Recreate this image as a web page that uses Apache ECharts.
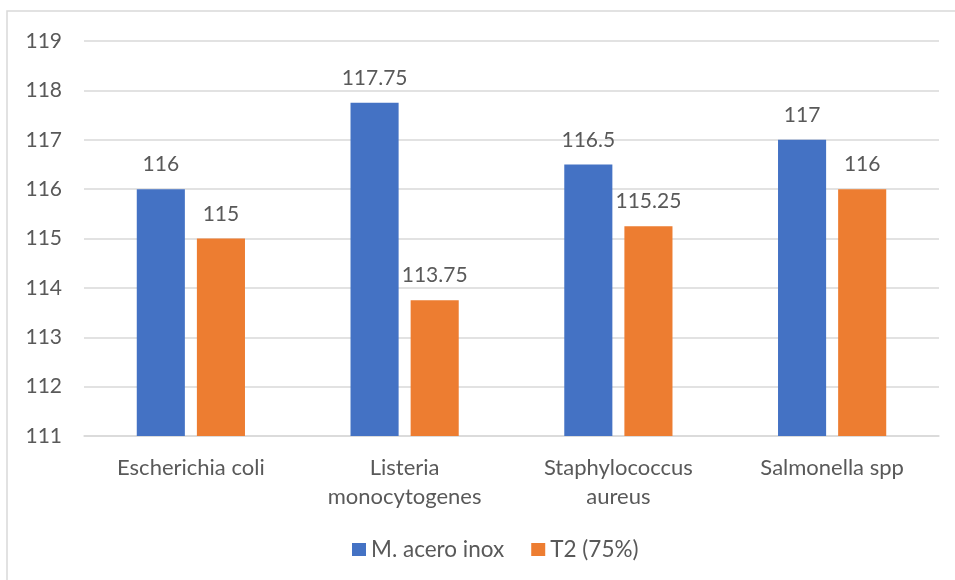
<!DOCTYPE html>
<html>
<head>
<meta charset="utf-8">
<script src="https://cdn.jsdelivr.net/npm/echarts@6/dist/echarts.min.js"></script>
<style>
  html, body { margin: 0; padding: 0; background: #ffffff; }
  #chart { width: 955px; height: 580px; }
</style>
</head>
<body>
<div id="chart"></div>
<script>
// Bacteria tested on each surface
const categories = ['Escherichia coli', 'Listeria\nmonocytogenes', 'Staphylococcus\naureus', 'Salmonella spp'];
// Series values
const aceroInox = [116, 117.75, 116.5, 117];
const t2 = [115, 113.75, 115.25, 116];
const seriesNames = ['M. acero inox', 'T2 (75%)'];
// Value axis range
const yMin = 111;
const yMax = 119;
const yStep = 1;

const FONT = 'Lato';
const TEXT = '#595959';

const chart = echarts.init(document.getElementById('chart'), null, { renderer: 'canvas' });

const labelStyle = {
  show: true,
  position: 'top',
  distance: 14,
  fontFamily: FONT,
  fontSize: 21,
  color: TEXT
};

chart.setOption({
  animation: false,
  backgroundColor: '#ffffff',
  textStyle: { fontFamily: FONT },
  graphic: [{
    type: 'rect',
    shape: { x: 7, y: 11, width: 1100, height: 1100 },
    style: { fill: 'none', stroke: '#d9d9d9', lineWidth: 1.5 },
    silent: true,
    z: -10
  }],
  grid: { left: 84, right: 16, top: 41, bottom: 144, containLabel: false },
  legend: {
    data: seriesNames,
    left: 352,
    top: 538,
    icon: 'rect',
    itemWidth: 14,
    itemHeight: 13,
    itemGap: 27,
    textStyle: { fontFamily: FONT, fontSize: 22.5, color: TEXT, padding: [0, 0, 0, 0] },
    padding: 0
  },
  xAxis: {
    type: 'category',
    data: categories,
    axisLine: { show: true, lineStyle: { color: '#d9d9d9', width: 1.5 } },
    axisTick: { show: false },
    axisLabel: {
      fontFamily: FONT,
      fontSize: 22,
      color: TEXT,
      lineHeight: 29,
      margin: 17,
      interval: 0,
      align: 'center'
    }
  },
  yAxis: {
    type: 'value',
    min: yMin,
    max: yMax,
    interval: yStep,
    axisLine: { show: false },
    axisTick: { show: false },
    splitLine: { lineStyle: { color: '#d9d9d9', width: 1.5 } },
    axisLabel: { fontFamily: FONT, fontSize: 21, color: TEXT, margin: 22 }
  },
  series: [
    {
      name: seriesNames[0],
      type: 'bar',
      data: aceroInox,
      barWidth: '22.5%',
      barGap: '25%',
      itemStyle: { color: '#4472C4' },
      label: labelStyle
    },
    {
      name: seriesNames[1],
      type: 'bar',
      data: t2,
      barWidth: '22.5%',
      itemStyle: { color: '#ED7D31' },
      label: labelStyle
    }
  ]
});
</script>
</body>
</html>
